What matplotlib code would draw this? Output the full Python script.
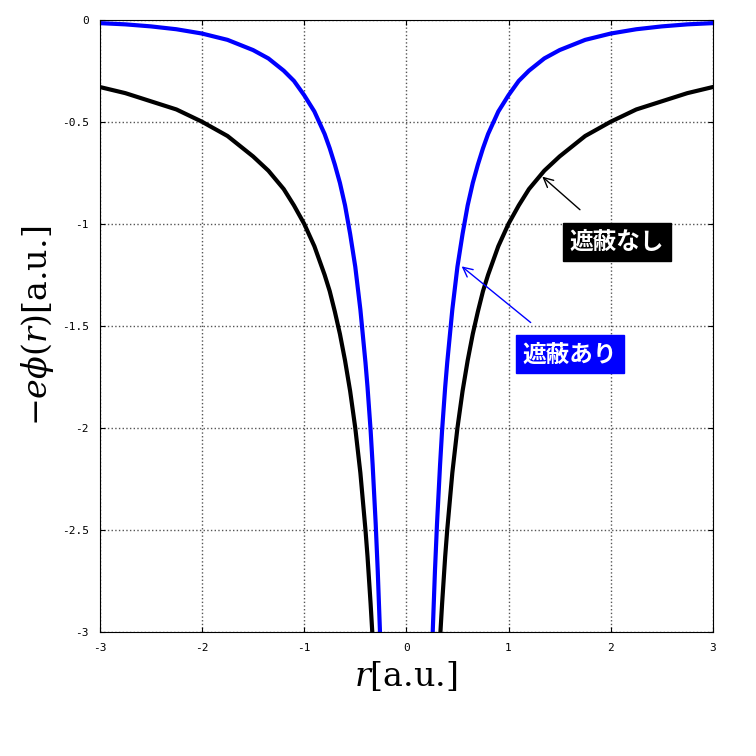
import numpy as np
import matplotlib
matplotlib.use("Agg")
import matplotlib.pyplot as plt

plt.rcParams['font.family'] = ['Noto Sans CJK JP', 'DejaVu Sans']
plt.rcParams['axes.unicode_minus'] = False
plt.rcParams['mathtext.fontset'] = 'dejavuserif'

r_pos = [0.25, 0.28, 0.3, 0.33, 0.35, 0.38, 0.4, 0.45, 0.5, 0.55, 0.6, 0.65, 0.7, 0.75, 0.8, 0.9, 1.0, 1.1,
         1.2, 1.35, 1.5, 1.75, 2.0, 2.25, 2.5, 2.75, 3.0]
black_pos = [-4.0, -3.57, -3.33, -3.03, -2.86, -2.63, -2.5, -2.22, -2.0, -1.82, -1.67, -1.54, -1.43, -1.33,
             -1.25, -1.11, -1.0, -0.91, -0.83, -0.74, -0.67, -0.57, -0.5, -0.44, -0.4, -0.36, -0.33]
blue_pos = [-3.11, -2.70, -2.47, -2.18, -2.01, -1.80, -1.68, -1.42, -1.21, -1.05, -0.91, -0.80, -0.71, -0.63,
            -0.56, -0.45, -0.37, -0.30, -0.25, -0.19, -0.149, -0.099, -0.068, -0.047, -0.033, -0.023, -0.017]

r = np.concatenate([-np.array(r_pos)[::-1], np.array(r_pos)])
black = np.concatenate([np.array(black_pos)[::-1], np.array(black_pos)])
blue = np.concatenate([np.array(blue_pos)[::-1], np.array(blue_pos)])

fig = plt.figure(figsize=(7.56, 7.56), dpi=100)
ax = fig.add_axes([0.132, 0.164, 0.811, 0.81])
n = len(r_pos)
for ys, c in [(black, 'black'), (blue, '#0000ff')]:
    ax.plot(r[:n], ys[:n], color=c, lw=3)
    ax.plot(r[n:], ys[n:], color=c, lw=3)

ax.set_xlim(-3, 3)
ax.set_ylim(-3, 0)
ax.set_xticks([-3, -2, -1, 0, 1, 2, 3])
ax.set_xticklabels(['-3', '-2', '-1', '0', '1', '2', '3'])
ax.set_yticks([0, -0.5, -1, -1.5, -2, -2.5, -3])
ax.set_yticklabels(['0', '-0.5', '-1', '-1.5', '-2', '-2.5', '-3'])
ax.tick_params(direction='in', labelsize=8, top=True, right=True, pad=8)
for lab in ax.get_xticklabels() + ax.get_yticklabels():
    lab.set_family('DejaVu Sans Mono')
ax.grid(True, linestyle=':', color='#555555', lw=1)

ax.set_xlabel(r'$r$[a.u.]', fontsize=24, family=['DejaVu Serif'])
ax.set_ylabel(r'$-e\phi(r)$[a.u.]', fontsize=24, family=['DejaVu Serif'])

ax.annotate('遮蔽なし', xy=(1.31, -0.76), xytext=(2.06, -1.09), ha='center', va='center',
            fontsize=17, color='white', fontweight='bold',
            bbox=dict(boxstyle='square,pad=0.3', fc='black', ec='black'),
            arrowprops=dict(arrowstyle='->', color='black', lw=1, shrinkA=14))
ax.annotate('遮蔽あり', xy=(0.52, -1.2), xytext=(1.6, -1.64), ha='center', va='center',
            fontsize=17, color='white', fontweight='bold',
            bbox=dict(boxstyle='square,pad=0.3', fc='#0000ff', ec='#0000ff'),
            arrowprops=dict(arrowstyle='->', color='#0000ff', lw=1, shrinkA=14))

fig.savefig('out.png', dpi=100)
